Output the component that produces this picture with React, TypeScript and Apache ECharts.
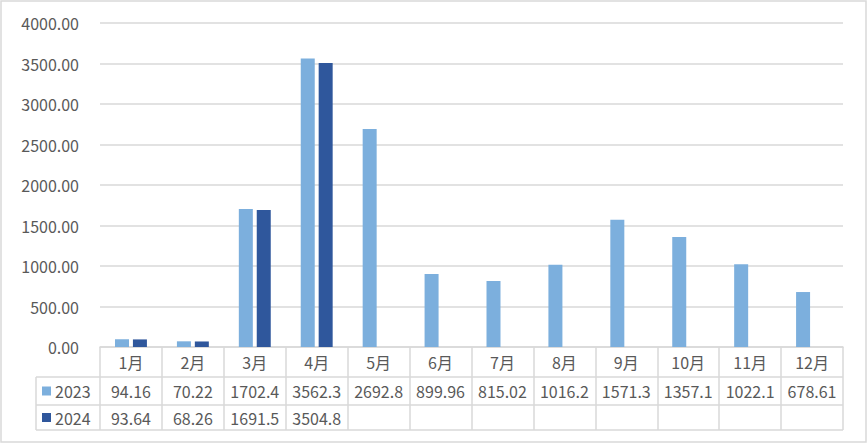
import React, { useEffect, useRef } from "react";
import * as echarts from "echarts";

const months = ["1月", "2月", "3月", "4月", "5月", "6月", "7月", "8月", "9月", "10月", "11月", "12月"];
const seriesNames = ["2023", "2024"];
const values2023 = [94.16, 70.22, 1702.4, 3562.3, 2692.8, 899.96, 815.02, 1016.2, 1571.3, 1357.1, 1022.1, 678.61];
const values2024: (number | null)[] = [93.64, 68.26, 1691.5, 3504.8, null, null, null, null, null, null, null, null];
const yTicks = [0, 500, 1000, 1500, 2000, 2500, 3000, 3500, 4000];

const W = 867;
const H = 443;
const GRID_LEFT = 100;
const GRID_RIGHT = 843;
const GRID_TOP = 23;
const GRID_BOTTOM = 347;
const ROW1 = 377;
const ROW2 = 405;
const ROW3 = 430;
const TABLE_LEFT = 36;
const LIGHT = "#7CAFDD";
const DARK = "#2F579C";
const GRAY = "#d9d9d9";
const TEXT = "#595959";
const FONT = "'Noto Sans CJK SC', 'Noto Sans', sans-serif";
const FS = 16;

export default function App() {
  const ref = useRef<HTMLDivElement>(null);
  useEffect(() => {
    if (!ref.current) return;
    const chart = echarts.init(ref.current, null, { renderer: "svg" });
    const cellW = (GRID_RIGHT - GRID_LEFT) / months.length;
    const rows = [values2023, values2024];
    const colors = [LIGHT, DARK];
    const graphics: any[] = [
      { type: "rect", shape: { x: 1, y: 1, width: W - 2, height: H - 2 }, style: { fill: "none", stroke: GRAY, lineWidth: 1.5 }, silent: true },
      { type: "line", shape: { x1: TABLE_LEFT, y1: ROW1, x2: GRID_RIGHT, y2: ROW1 }, style: { stroke: GRAY, lineWidth: 1.5 } },
      { type: "line", shape: { x1: TABLE_LEFT, y1: ROW2, x2: GRID_RIGHT, y2: ROW2 }, style: { stroke: GRAY, lineWidth: 1.5 } },
      { type: "line", shape: { x1: TABLE_LEFT, y1: ROW3, x2: GRID_RIGHT, y2: ROW3 }, style: { stroke: GRAY, lineWidth: 1.5 } },
      { type: "line", shape: { x1: TABLE_LEFT, y1: ROW1, x2: TABLE_LEFT, y2: ROW3 }, style: { stroke: GRAY, lineWidth: 1.5 } },
    ];
    rows.forEach((row, r) => {
      const yTop = r === 0 ? ROW1 : ROW2;
      const yBot = r === 0 ? ROW2 : ROW3;
      const yc = (yTop + yBot) / 2;
      graphics.push({ type: "rect", shape: { x: 42, y: yc - 4.5, width: 9, height: 9 }, style: { fill: colors[r] } });
      graphics.push({ type: "text", x: 55, y: yc, style: { text: seriesNames[r], font: `${FS}px ${FONT}`, fill: TEXT, verticalAlign: "middle" } });
      row.forEach((v, i) => {
        if (v === null || v === undefined) return;
        graphics.push({
          type: "text",
          x: GRID_LEFT + (i + 0.5) * cellW,
          y: yc,
          style: { text: String(v), font: `${FS}px ${FONT}`, fill: TEXT, align: "center", verticalAlign: "middle" },
        });
      });
    });

    chart.setOption({
      animation: false,
      backgroundColor: "#fff",
      textStyle: { fontFamily: FONT },
      grid: { left: GRID_LEFT, right: W - GRID_RIGHT, top: GRID_TOP, bottom: H - GRID_BOTTOM, containLabel: false },
      xAxis: {
        type: "category",
        data: months,
        boundaryGap: true,
        axisLine: { show: true, lineStyle: { color: GRAY, width: 1.5 } },
        axisTick: { show: true, length: ROW3 - GRID_BOTTOM, lineStyle: { color: GRAY, width: 1.5 }, alignWithLabel: false },
        axisLabel: { color: TEXT, fontSize: FS, fontFamily: FONT, margin: 15, verticalAlign: "middle", interval: 0 },
      },
      yAxis: {
        type: "value",
        min: yTicks[0],
        max: yTicks[yTicks.length - 1],
        interval: 500,
        axisLine: { show: false },
        axisTick: { show: false },
        splitLine: { lineStyle: { color: GRAY, width: 1.5 } },
        axisLabel: { color: TEXT, fontSize: FS, fontFamily: FONT, margin: 21, formatter: (v: number) => v.toFixed(2) },
      },
      series: [
        { name: seriesNames[0], type: "bar", data: values2023, itemStyle: { color: LIGHT }, barWidth: 14, barGap: "28%" },
        { name: seriesNames[1], type: "bar", data: values2024, itemStyle: { color: DARK }, barWidth: 14 },
      ],
      graphic: graphics,
    });
    return () => chart.dispose();
  }, []);
  return <div ref={ref} style={{ position: "fixed", left: 0, top: 0, width: W, height: H }} />;
}
